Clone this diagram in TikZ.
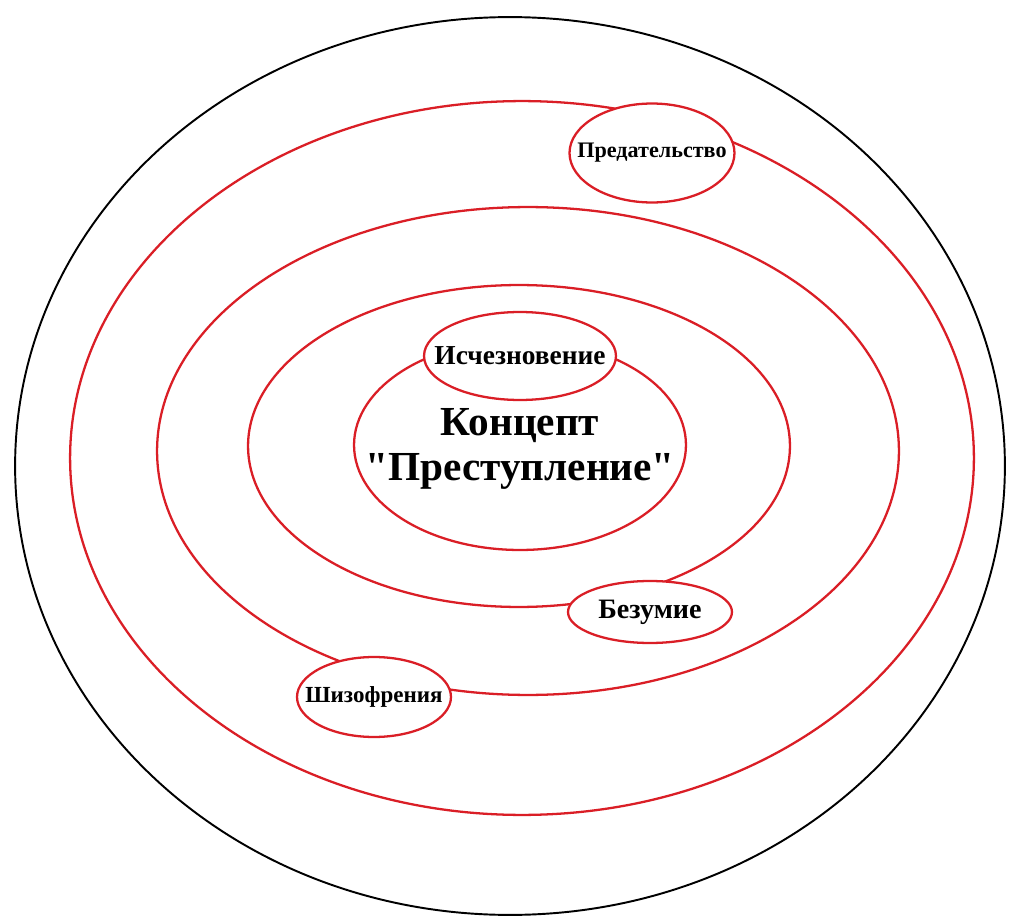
\documentclass[tikz,border=0pt]{standalone}
\usepackage{fontspec}
\setmainfont{Liberation Serif}[Ligatures=TeXOff]
\usetikzlibrary{shapes.geometric}
\definecolor{ringred}{RGB}{218,30,38}
\tikzset{ring/.style={draw=ringred,line width=1.3pt},
    tag/.style={ellipse,draw=ringred,line width=1.3pt,fill=white,inner sep=0pt},
    tagtext/.style={font=\bfseries\fontsize{#1}{#1}\selectfont,inner sep=0pt}}

\begin{document}
\begin{tikzpicture}[x=0.02cm,y=-0.02cm]
        \useasboundingbox (0,0) rectangle (1009,916);
        % outer field
        \draw[line width=1.1pt] (510,466) ellipse (9.9cm and 8.98cm);
        % rings
        \draw[ring] (522,458) ellipse (9.04cm and 7.14cm);
        \draw[ring] (528,451) ellipse (7.42cm and 4.88cm);
        \draw[ring] (519,446) ellipse (5.42cm and 3.22cm);
        \draw[ring] (520,445) ellipse (3.32cm and 2.1cm);
        % core
        \node[align=center,font=\bfseries\fontsize{23.5}{26}\selectfont] (core) at (520,449) {Концепт\\"Преступление"};
        % satellites
        \node[tag,minimum width=3.3cm,minimum height=1.98cm,label={[tagtext=12.6]center:Предательство}] (betrayal) at (652,153) {};
        \node[tag,minimum width=3.84cm,minimum height=1.76cm,label={[tagtext=15.6]center:Исчезновение}] (vanish) at (520,356) {};
        \node[tag,minimum width=3.28cm,minimum height=1.24cm,label={[tagtext=16]center:Безумие}] (madness) at (650,612) {};
        \node[tag,minimum width=3.08cm,minimum height=1.6cm,label={[tagtext=13.1]center:Шизофрения}] (schizo) at (374,697) {};
    \end{tikzpicture}
\end{document}
